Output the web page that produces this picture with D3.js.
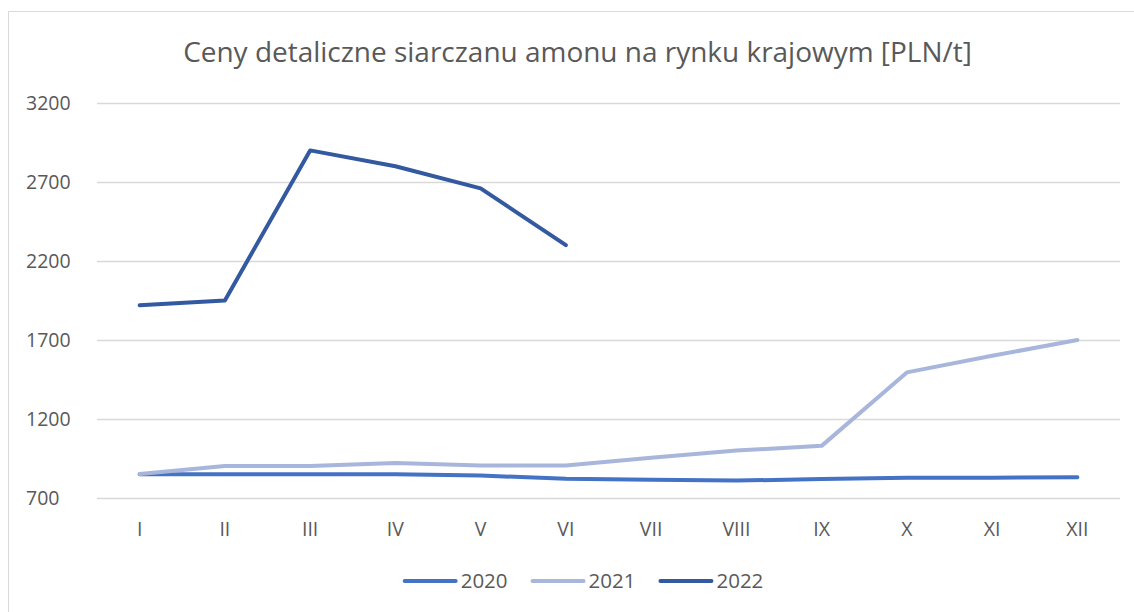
<!DOCTYPE html>
<html>
<head>
<meta charset="utf-8">
<script src="https://cdn.jsdelivr.net/npm/d3@7"></script>
<style>
  html, body { margin: 0; padding: 0; background: #fff; }
  svg { display: block; }
  text { font-family: "Open Sans", "Noto Sans", sans-serif; fill: #595959; }
</style>
</head>
<body>
<svg id="chart" width="1134" height="612"></svg>
<script>
const titleText = "Ceny detaliczne siarczanu amonu na rynku krajowym [PLN/t]";
const months = ["I","II","III","IV","V","VI","VII","VIII","IX","X","XI","XII"];
const yTicks = [700, 1200, 1700, 2200, 2700, 3200];
const seriesNames = ["2020", "2021", "2022"];
const values2020 = [850, 850, 850, 850, 842, 822, 815, 810, 820, 828, 828, 832];
const values2021 = [852, 902, 902, 922, 905, 905, 955, 1000, 1030, 1495, 1600, 1700];
const values2022 = [1920, 1950, 2900, 2800, 2660, 2300];
const seriesColors = ["#4472C4", "#A8B6DB", "#3359A0"];

const svg = d3.select("#chart");
const W = 1134, H = 612;

// chart border
svg.append("rect").attr("x", 8.5).attr("y", 11.5).attr("width", W).attr("height", H)
  .attr("fill", "none").attr("stroke", "#d9d9d9").attr("stroke-width", 1);

const plot = { left: 97, right: 1120, top: 103, bottom: 498 };

const x = d3.scaleBand().domain(months).range([plot.left, plot.right]).padding(0);
const y = d3.scaleLinear().domain([700, 3200]).range([plot.bottom, plot.top]);

// gridlines
const yAxis = d3.axisLeft(y).tickValues(yTicks).tickSize(-(plot.right - plot.left)).tickFormat("");
const gGrid = svg.append("g").attr("transform", `translate(${plot.left},0)`).call(yAxis);
gGrid.select(".domain").remove();
gGrid.selectAll(".tick line").attr("stroke", "#d9d9d9").attr("stroke-width", 1.3);

// y labels (left aligned)
svg.append("g").selectAll("text").data(yTicks).join("text")
  .attr("x", 26).attr("y", d => y(d)).attr("dy", "0.35em")
  .attr("font-size", 19.5).attr("text-anchor", "start")
  .text(d => d);

// x labels
const xAxis = d3.axisBottom(x).tickSize(0).tickPadding(0);
const gx = svg.append("g").attr("transform", `translate(0,${plot.bottom})`).call(xAxis);
gx.select(".domain").remove();
gx.selectAll(".tick text").attr("y", 31).attr("dy", "0.35em")
  .attr("font-size", 19.5).attr("font-family", "'Open Sans', sans-serif").attr("fill", "#595959");

// lines
const allSeries = [values2020, values2021, values2022];
const line = d3.line().x((d, i) => x(months[i]) + x.bandwidth() / 2).y(d => y(d));
allSeries.forEach((vals, k) => {
  svg.append("path").datum(vals)
    .attr("d", line)
    .attr("fill", "none")
    .attr("stroke", seriesColors[k])
    .attr("stroke-width", 4)
    .attr("stroke-linejoin", "round")
    .attr("stroke-linecap", "round");
});

// title
const title = svg.append("text")
  .attr("x", 577.5).attr("y", 62).attr("text-anchor", "middle")
  .attr("font-size", 26).text(titleText);
const tw = title.node().getComputedTextLength();
title.attr("font-size", 26 * 789 / tw);

// legend
const legend = svg.append("g");
let cx = 0;
seriesNames.forEach((name, k) => {
  const g = legend.append("g").attr("transform", `translate(${cx},0)`);
  g.append("line").attr("x1", 2).attr("x2", 53).attr("y1", 0).attr("y2", 0)
    .attr("stroke", seriesColors[k]).attr("stroke-width", 4).attr("stroke-linecap", "round");
  const t = g.append("text").attr("x", 58).attr("y", 0).attr("dy", "0.35em")
    .attr("font-size", 20.5).text(name);
  const w = t.node().getComputedTextLength();
  cx += 58 + w + 23;
});
const totalW = cx - 23;
legend.attr("transform", `translate(${583 - totalW / 2},581)`);
</script>
</body>
</html>
